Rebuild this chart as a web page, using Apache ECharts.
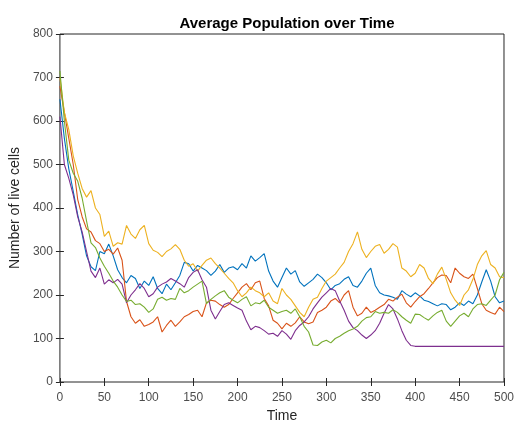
<!DOCTYPE html>
<html>
<head>
<meta charset="utf-8">
<script src="https://cdn.jsdelivr.net/npm/echarts@6/dist/echarts.min.js"></script>
<style>html,body{margin:0;padding:0;background:#fff}#c{width:517px;height:428px}</style>
</head>
<body>
<div id="c"></div>
<script>
// time step between samples
const timeStep = 5;
const seriesNames = ['Run 1', 'Run 2', 'Run 3', 'Run 4', 'Run 5'];
const xTicks = [0, 50, 100, 150, 200, 250, 300, 350, 400, 450, 500];
const yTicks = [0, 100, 200, 300, 400, 500, 600, 700, 800];

const blue = [650,560,490,438,385,340,290,265,256,300,295,317,290,258,240,228,245,238,215,232,
222,242,215,203,225,212,228,245,275,272,255,268,262,256,245,255,270,252,262,265,
258,272,262,290,278,286,295,255,232,218,240,262,248,256,230,220,228,236,248,240,
228,212,222,226,236,242,222,218,232,250,262,222,205,200,198,195,190,210,202,196,
205,198,188,185,180,175,180,178,166,172,182,176,186,180,200,230,258,232,196,182,186];

const orange = [680,620,560,500,420,380,352,345,325,318,300,305,294,308,280,185,150,135,143,128,
132,138,150,115,130,142,128,138,150,155,162,165,150,182,188,186,178,172,178,192,
205,218,226,212,228,232,192,175,142,135,122,135,128,136,150,138,134,138,160,165,
172,186,192,182,200,210,172,152,158,172,160,165,172,178,190,186,195,202,182,172,
185,196,203,215,228,240,246,245,228,262,250,242,238,248,215,180,165,160,156,172,162];

const yellow = [700,620,580,520,480,445,425,440,400,385,335,347,312,320,317,360,340,330,350,360,
318,303,298,288,300,306,316,305,280,266,272,255,268,280,285,272,262,250,238,228,
210,196,205,218,210,205,196,205,186,180,215,200,190,175,160,150,172,190,195,215,
232,240,248,262,275,300,318,345,305,286,300,312,316,296,305,318,310,262,255,242,
250,270,262,238,226,248,264,236,205,188,176,200,212,236,270,290,302,270,262,242,240];

const purple = [610,500,468,430,380,345,300,255,240,262,225,235,228,236,225,182,200,212,226,215,
196,203,218,225,230,238,232,226,218,240,252,258,235,218,165,145,162,178,182,176,
170,165,140,120,128,125,118,110,112,105,118,110,98,118,130,138,150,168,182,195,
205,215,210,186,165,140,125,118,108,100,108,118,135,158,178,168,145,118,96,84,
82,82,82,82,82,82,82,82,82,82,82,82,82,82,82,82,82,82,82,82,82];

const green = [715,600,510,480,462,423,370,320,309,285,266,250,232,218,200,185,188,178,180,172,
160,168,190,195,188,192,190,215,205,210,218,225,232,180,190,198,205,210,195,188,
182,190,196,175,182,180,188,172,165,158,162,165,158,168,150,128,115,85,84,92,
96,90,100,105,112,118,122,128,140,148,150,162,158,160,158,166,160,150,142,135,
156,155,148,142,152,160,165,140,128,140,152,158,150,168,178,180,176,188,200,235,252];

const colors = ['#0072BD', '#D95319', '#EDB120', '#7E2F8E', '#77AC30'];
const allSeries = [blue, orange, yellow, purple, green];

const toPairs = arr => arr.map((v, i) => [i * timeStep, v]);

const font = 'Liberation Sans, Arial, Helvetica, sans-serif';
const axisCol = '#262626';
const labelCol = '#4d4d4d';

const chart = echarts.init(document.getElementById('c'), null, {renderer: 'canvas'});
const hiddenAxisBase = {
  axisLine: {show: false}, axisLabel: {show: false}, splitLine: {show: false},
  axisTick: {show: true, inside: true, length: 4, lineStyle: {color: axisCol, width: 1}}
};
chart.setOption({
  animation: false,
  title: {
    text: 'Average Population over Time',
    left: 282, top: 11, textAlign: 'center',
    textStyle: {fontFamily: font, fontSize: 15, fontWeight: 'bold', color: '#000'}
  },
  grid: {left: 59, right: 11, top: 34, bottom: 42, show: true, borderColor: axisCol, borderWidth: 1, backgroundColor: 'transparent'},
  xAxis: [{
    type: 'value', min: 0, max: 500, interval: 50,
    name: 'Time', nameLocation: 'middle', nameGap: 27,
    nameTextStyle: {fontFamily: font, fontSize: 14, color: axisCol},
    axisLine: {show: false},
    axisTick: {show: true, inside: true, length: 4, lineStyle: {color: axisCol}},
    axisLabel: {fontFamily: font, fontSize: 12, color: labelCol, margin: 10,
      formatter: v => xTicks.includes(v) ? String(v) : ''},
    splitLine: {show: false}
  }, Object.assign({type: 'value', min: 0, max: 500, interval: 50, position: 'top'}, hiddenAxisBase)],
  yAxis: [{
    type: 'value', min: 0, max: 800, interval: 100,
    name: 'Number of live cells', nameLocation: 'middle', nameGap: 35,
    nameTextStyle: {fontFamily: font, fontSize: 14, color: axisCol},
    axisLine: {show: false},
    axisTick: {show: true, inside: true, length: 4, lineStyle: {color: axisCol}},
    axisLabel: {fontFamily: font, fontSize: 12, color: labelCol, margin: 7,
      formatter: v => yTicks.includes(v) ? String(v) : ''},
    splitLine: {show: false}
  }, Object.assign({type: 'value', min: 0, max: 800, interval: 100, position: 'right'}, hiddenAxisBase)],
  series: allSeries.map((arr, k) => ({
    name: seriesNames[k], type: 'line', data: toPairs(arr),
    showSymbol: false, symbol: 'none', smooth: false,
    lineStyle: {color: colors[k], width: 1.1},
    itemStyle: {color: colors[k]}, z: 2 + k
  }))
});
</script>
</body>
</html>
